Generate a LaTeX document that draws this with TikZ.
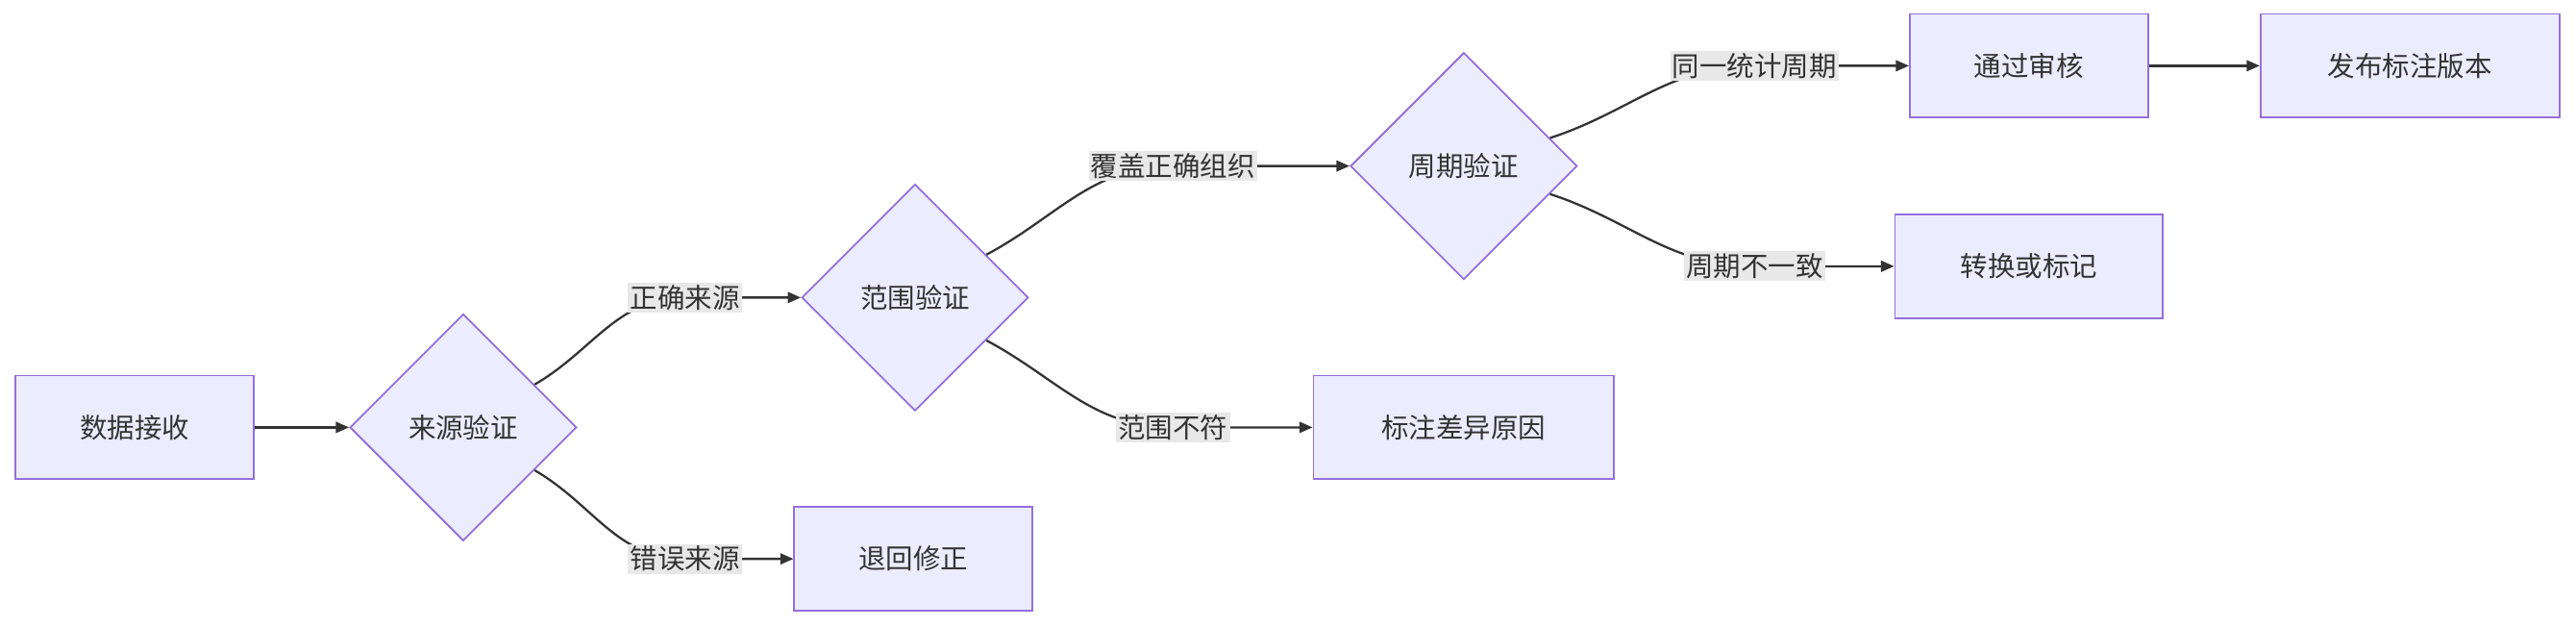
\documentclass[tikz,border=0pt]{standalone}
\usepackage{fontspec}
\setmainfont{Noto Sans CJK SC}
\usetikzlibrary{shapes.geometric,arrows.meta}
\definecolor{nf}{HTML}{ECECFF}
\definecolor{ns}{HTML}{9370DB}
\definecolor{tx}{HTML}{333333}
\definecolor{lb}{HTML}{E8E8E8}
\begin{document}
\begin{tikzpicture}[x=0.75pt,y=-0.75pt,
 box/.style={draw=ns,fill=nf,line width=0.8pt,text=tx,font=\fontsize{12.5}{14}\selectfont,inner sep=0pt},
 dia/.style={box,diamond,minimum width=103.5pt,minimum height=103.5pt,aspect=1},
 edge/.style={draw=tx,line width=1pt,-{Triangle[length=6pt,width=5pt]}},
 lbl/.style={fill=lb,text=tx,font=\fontsize{12.5}{14}\selectfont,inner sep=1pt}]
\useasboundingbox (0,0) rectangle (1568,381.5);
\node[box,minimum width=108.75pt,minimum height=47.25pt] (a) at (82,260) {数据接收};
\node[dia] (b) at (282,260) {来源验证};
\node[box,minimum width=108.75pt,minimum height=47.25pt] (c) at (556,340) {退回修正};
\node[dia] (d) at (557,181) {范围验证};
\node[box,minimum width=137.25pt,minimum height=47.25pt] (e) at (891,260) {标注差异原因};
\node[dia] (f) at (891,101) {周期验证};
\node[box,minimum width=122.25pt,minimum height=47.25pt] (g) at (1235,162) {转换或标记};
\node[box,minimum width=108.75pt,minimum height=47.25pt] (h) at (1235,40) {通过审核};
\node[box,minimum width=136.5pt,minimum height=47.25pt] (i) at (1467,40) {发布标注版本};
\coordinate (l1) at (417,181);
\coordinate (l2) at (417,340);
\coordinate (l3) at (714,101);
\coordinate (l4) at (714,260);
\coordinate (l5) at (1068,40);
\coordinate (l6) at (1068,162);
\draw[edge] (a) -- (b);
\draw[edge] (b.31) to[out=30,in=180] (l1) -- (d.west);
\draw[edge] (b.-31) to[out=-30,in=180] (l2) -- (c.west);
\draw[edge] (d.31) to[out=28,in=180] (l3) -- (f.west);
\draw[edge] (d.-31) to[out=-28,in=180] (l4) -- (e.west);
\draw[edge] (f.18) to[out=18,in=180] (l5) -- (h.west);
\draw[edge] (f.-18) to[out=-18,in=180] (l6) -- (g.west);
\draw[edge] (h) -- (i);
\node[lbl] (t1) at (l1) {正确来源};
\node[lbl] (t2) at (l2) {错误来源};
\node[lbl] (t3) at (l3) {覆盖正确组织};
\node[lbl] (t4) at (l4) {范围不符};
\node[lbl] (t5) at (l5) {同一统计周期};
\node[lbl] (t6) at (l6) {周期不一致};
\end{tikzpicture}
\end{document}
